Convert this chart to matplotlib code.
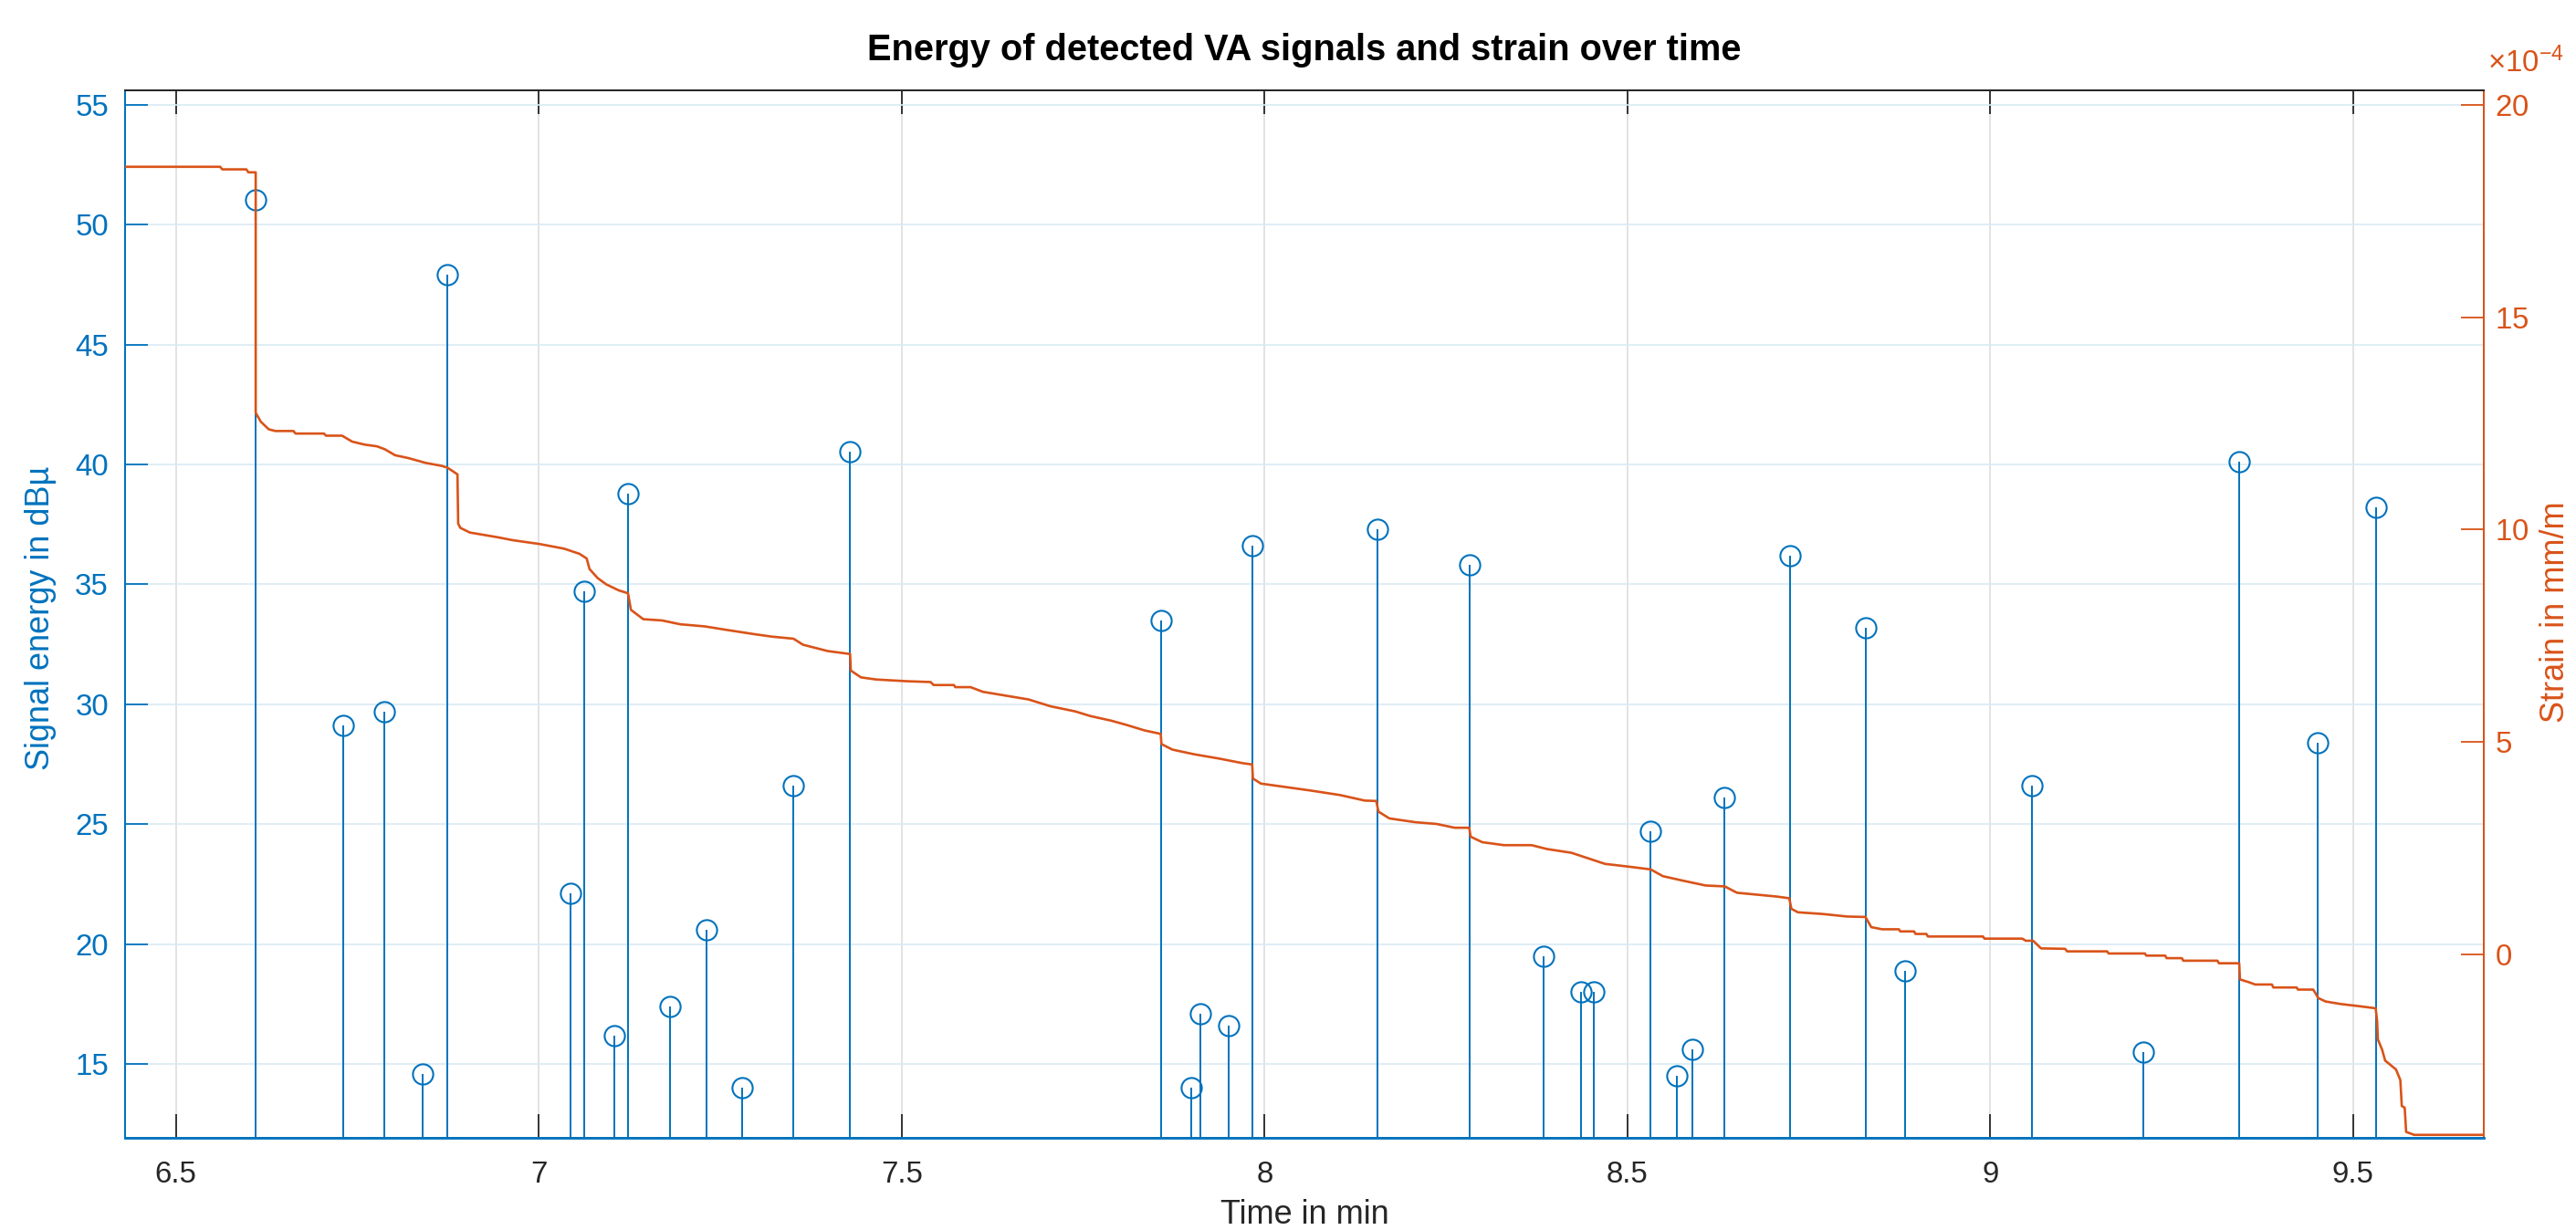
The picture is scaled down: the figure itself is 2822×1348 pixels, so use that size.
import numpy as np
import matplotlib
matplotlib.use('Agg')
import matplotlib.pyplot as plt
from matplotlib.ticker import ScalarFormatter, FuncFormatter

plt.rcParams['font.family'] = ['Liberation Sans', 'DejaVu Sans']

# ---------------- data ----------------
stem_time = [6.610, 6.730, 6.787, 6.840, 6.874, 7.044, 7.063, 7.104, 7.123, 7.181,
             7.231, 7.280, 7.351, 7.429, 7.857, 7.899, 7.912, 7.951, 7.983, 8.155,
             8.283, 8.385, 8.436, 8.454, 8.532, 8.568, 8.590, 8.634, 8.724, 8.829,
             8.883, 9.058, 9.211, 9.343, 9.451, 9.531]
stem_energy = [51.05, 29.1, 29.7, 14.6, 47.9, 22.1, 34.7, 16.2, 38.8, 17.4,
               20.6, 14.0, 26.6, 40.55, 33.5, 14.0, 17.1, 16.6, 36.6, 37.3,
               35.8, 19.5, 18.0, 18.0, 24.7, 14.5, 15.6, 26.1, 36.2, 33.2,
               18.9, 26.6, 15.5, 40.1, 28.4, 38.2]

strain_time = [6.400, 6.561, 6.564, 6.597, 6.600, 6.610, 6.610, 6.617, 6.628, 6.637,
               6.662, 6.665, 6.704, 6.707, 6.729, 6.743, 6.760, 6.777, 6.788, 6.802,
               6.821, 6.844, 6.866, 6.874, 6.888, 6.889, 6.892, 6.905, 6.922, 6.943,
               6.964, 7.001, 7.035, 7.056, 7.066, 7.070, 7.081, 7.093, 7.110, 7.123,
               7.127, 7.144, 7.170, 7.195, 7.229, 7.258, 7.296, 7.321, 7.351, 7.364,
               7.398, 7.429, 7.430, 7.444, 7.465, 7.507, 7.540, 7.544, 7.572, 7.574,
               7.595, 7.612, 7.633, 7.654, 7.675, 7.705, 7.739, 7.760, 7.789, 7.810,
               7.835, 7.857, 7.858, 7.873, 7.903, 7.937, 7.970, 7.983, 7.984, 7.995,
               8.033, 8.062, 8.104, 8.138, 8.154, 8.157, 8.172, 8.208, 8.237, 8.262,
               8.282, 8.284, 8.300, 8.330, 8.368, 8.389, 8.423, 8.448, 8.469, 8.499,
               8.532, 8.549, 8.575, 8.608, 8.634, 8.651, 8.706, 8.723, 8.726, 8.735,
               8.769, 8.803, 8.828, 8.836, 8.851, 8.874, 8.876, 8.895, 8.897, 8.912,
               8.914, 8.990, 8.992, 9.044, 9.049, 9.059, 9.070, 9.103, 9.106, 9.161,
               9.163, 9.213, 9.215, 9.241, 9.243, 9.264, 9.266, 9.313, 9.315, 9.343,
               9.344, 9.357, 9.365, 9.388, 9.390, 9.422, 9.424, 9.445, 9.452, 9.462,
               9.483, 9.508, 9.531, 9.533, 9.534, 9.540, 9.544, 9.559, 9.565, 9.567,
               9.571, 9.573, 9.584, 9.700]
# strain in units of 1e-4 mm/m
strain_value_e4 = [18.54, 18.54, 18.48, 18.48, 18.41, 18.41, 12.75, 12.54, 12.36, 12.32,
                   12.32, 12.26, 12.26, 12.21, 12.21, 12.07, 12.00, 11.96, 11.89, 11.75,
                   11.68, 11.57, 11.50, 11.46, 11.30, 10.14, 10.04, 9.93, 9.88, 9.82,
                   9.75, 9.66, 9.55, 9.43, 9.32, 9.07, 8.86, 8.71, 8.57, 8.50,
                   8.11, 7.89, 7.86, 7.77, 7.72, 7.64, 7.54, 7.48, 7.43, 7.29,
                   7.14, 7.07, 6.68, 6.52, 6.47, 6.43, 6.41, 6.34, 6.34, 6.29,
                   6.29, 6.18, 6.12, 6.06, 6.00, 5.84, 5.72, 5.61, 5.50, 5.40,
                   5.27, 5.19, 4.95, 4.82, 4.71, 4.61, 4.50, 4.47, 4.14, 4.02,
                   3.93, 3.86, 3.75, 3.62, 3.61, 3.36, 3.20, 3.11, 3.07, 2.98,
                   2.98, 2.77, 2.64, 2.57, 2.57, 2.48, 2.39, 2.25, 2.13, 2.07,
                   2.00, 1.84, 1.74, 1.62, 1.60, 1.45, 1.36, 1.32, 1.07, 0.99,
                   0.95, 0.89, 0.88, 0.64, 0.59, 0.59, 0.54, 0.54, 0.48, 0.48,
                   0.42, 0.42, 0.37, 0.37, 0.32, 0.32, 0.14, 0.13, 0.07, 0.07,
                   0.02, 0.02, -0.03, -0.03, -0.09, -0.09, -0.15, -0.15, -0.21, -0.21,
                   -0.59, -0.66, -0.71, -0.71, -0.78, -0.78, -0.83, -0.83, -1.03, -1.11,
                   -1.17, -1.22, -1.27, -1.57, -2.00, -2.25, -2.50, -2.71, -2.96, -3.57,
                   -3.61, -4.18, -4.25, -4.25]

x_ticks = [6.5, 7, 7.5, 8, 8.5, 9, 9.5]
energy_ticks = [15, 20, 25, 30, 35, 40, 45, 50, 55]
strain_ticks_e4 = [0, 5, 10, 15, 20]

title = 'Energy of detected VA signals and strain over time'
xlabel = 'Time in min'
ylabel_left = 'Signal energy in dBµ'
ylabel_right = 'Strain in mm/m'

# ---------------- style ----------------
BLUE = '#0072BD'
ORANGE = '#D95319'
DARK = '#262626'
TICK_FS = 23.8
LABEL_FS = 26
TITLE_FS = 28.6

W, H = 2822, 1348
fig = plt.figure(figsize=(W / 100, H / 100), dpi=100)
ax = fig.add_axes([137 / W, (H - 1247) / H, 2584 / W, 1148 / H])
ax.set_axisbelow(True)

# stems
ax.vlines(stem_time, 0, stem_energy, color=BLUE, lw=1.4, zorder=2)
ax.plot(stem_time, stem_energy, 'o', mfc='none', mec=BLUE, ms=16, mew=1.5,
        zorder=3, clip_on=True)

ax.set_xlim(6.43, 9.68)
ax.set_ylim(11.92, 55.6)
ax.set_xticks(x_ticks)
ax.xaxis.set_major_formatter(FuncFormatter(lambda v, p: '%g' % v))
ax.set_yticks(energy_ticks)

ax.grid(axis='x', color='#dedede', lw=1.2)
ax.grid(axis='y', color='#d9eaf5', lw=1.2)

ax.tick_params(axis='x', colors=DARK, direction='in', length=19, width=1.3,
               labelsize=TICK_FS, pad=18, top=True, bottom=True)
ax.tick_params(axis='y', colors=BLUE, direction='in', length=18, width=1.3,
               labelsize=TICK_FS, pad=13, left=True, right=False)

# strain on right axis
ax2 = ax.twinx()
ax2.plot(strain_time, np.array(strain_value_e4) * 1e-4, color=ORANGE, lw=1.9, zorder=4)
ax2.set_ylim(-4.32e-4, 20.34e-4)
ax2.set_yticks(np.array(strain_ticks_e4) * 1e-4)
fmt = ScalarFormatter(useMathText=True)
fmt.set_powerlimits((-4, -4))
ax2.yaxis.set_major_formatter(fmt)
ax2.yaxis.get_offset_text().set_visible(False)
ax2.tick_params(axis='y', colors=ORANGE, direction='in', length=18, width=1.3,
                labelsize=TICK_FS, pad=9, right=True, left=False)
fig.text(2725 / W, 1 - 79 / H, r'$\mathregular{\times10^{-4}}$', color=ORANGE,
         fontsize=TICK_FS, ha='left', va='baseline')

for a in (ax, ax2):
    a.spines['left'].set_color(BLUE)
    a.spines['right'].set_color(ORANGE)
    a.spines['top'].set_color(DARK)
    a.spines['bottom'].set_color(BLUE)
    for s in a.spines.values():
        s.set_linewidth(1.4)
ax2.spines['bottom'].set_linewidth(2.0)

# labels
ax.set_title(title, fontsize=TITLE_FS, fontweight='bold', color='black', pad=24)
ax.set_xlabel(xlabel, fontsize=LABEL_FS, color=DARK)
ax.xaxis.set_label_coords(0.5, (1247 - 1341) / 1148)
ax.xaxis.label.set_va('baseline')

ax.set_ylabel(ylabel_left, fontsize=LABEL_FS, color=BLUE)
ax.yaxis.set_label_coords((45 - 137) / 2584, 0.4965)
ax.yaxis.label.set_va('center')

ax2.set_ylabel(ylabel_right, fontsize=LABEL_FS, color=ORANGE)
ax2.yaxis.set_label_coords((2800 - 137) / 2584, 0.502)
ax2.yaxis.label.set_va('center')

fig.savefig('out.png', dpi=100)
